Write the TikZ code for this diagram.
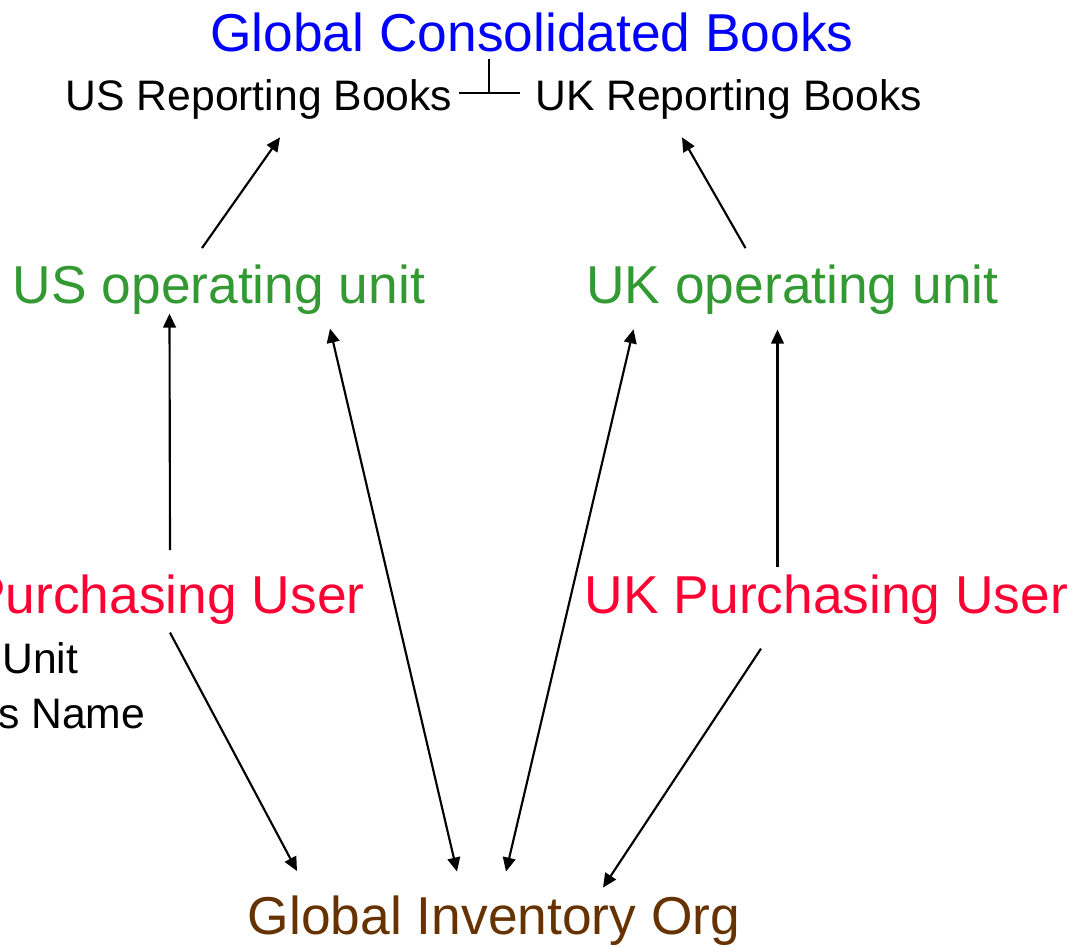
\documentclass[tikz,border=0pt]{standalone}
\usepackage{fontspec}
\setmainfont{Liberation Sans}
\usetikzlibrary{arrows.meta,calc}
\definecolor{titleblue}{RGB}{0,0,255}
\definecolor{opgreen}{RGB}{51,153,51}
\definecolor{userred}{RGB}{255,0,51}
\definecolor{orgbrown}{RGB}{102,51,0}
\begin{document}
\begin{tikzpicture}[
			x=0.75pt, y=-0.75pt,
			big/.style={inner sep=0pt, anchor=base, font=\fontsize{40}{48}\selectfont, text height=29pt, text depth=8.5pt},
			small/.style={inner sep=0pt, anchor=base, font=\fontsize{32}{38}\selectfont, text height=23.2pt, text depth=6.8pt},
			arr/.style={line width=1.6pt, -{Triangle[length=10.5pt,width=9.5pt]}},
			twoway/.style={line width=1.6pt, {Triangle[length=10.5pt,width=9.5pt]}-{Triangle[length=10.5pt,width=9.5pt]}},
			link/.style={line width=0.8pt}
		]
		\useasboundingbox (0,0) rectangle (1085,946);
		\clip (0,0) rectangle (1085,946);
		% books
		\node[big, titleblue] (title) at (532,51) {Global Consolidated Books};
		\node[small] (usrb) at (259,110) {US Reporting Books};
		\node[small] (ukrb) at (728.5,110) {UK Reporting Books};
		% operating units
		\node[big, opgreen] (usou) at (219,303) {US operating unit};
		\node[big, opgreen] (ukou) at (792.5,303) {UK operating unit};
		% users
		\node[big, userred] (uspu) at (123,613) {US Purchasing User};
		\node[big, userred] (ukpu) at (826.5,613) {UK Purchasing User};
		\node[small, anchor=base west] (unit) at (2,673) {Unit};
		\node[small, anchor=base west] (sname) at (-2,728) {s Name};
		% inventory
		\node[big, orgbrown] (gio) at (494,934) {Global Inventory Org};

		\coordinate (tee) at (489,93);
		\draw[link, shorten <=4.5pt, shorten >=11.25pt] (usrb.east |- tee) -- (ukrb.west |- tee);
		\draw[link, shorten >=-2.5pt] (tee) -- (tee |- title.south);

		\draw[arr] ($(usou.north)+(-17,-16)$) -- ($(usrb.south)+(21,18)$);
		\draw[arr] ($(ukou.north)+(-47,-16)$) -- ($(ukrb.south)+(-46.5,18)$);
		\draw[arr] ($(uspu.north)+(47,-24)$) -- ($(usou.south)+(-49.5,-1)$);
		\draw[arr] ($(ukpu.north)+(-49,-7)$) -- ($(ukou.south)+(-15,15)$);
		\draw[arr] ($(uspu.south)+(47,8)$) -- ($(gio.north)+(-197,-24)$);
		\draw[arr] ($(ukpu.south)+(-65.5,24)$) -- ($(gio.north)+(109,-7.5)$);
		\draw[twoway] ($(usou.south)+(111,14)$) -- ($(gio.north)+(-37,-23.5)$);
		\draw[twoway] ($(ukou.south)+(-159,14.7)$) -- ($(gio.north)+(12,-23.5)$);
	\end{tikzpicture}
\end{document}
